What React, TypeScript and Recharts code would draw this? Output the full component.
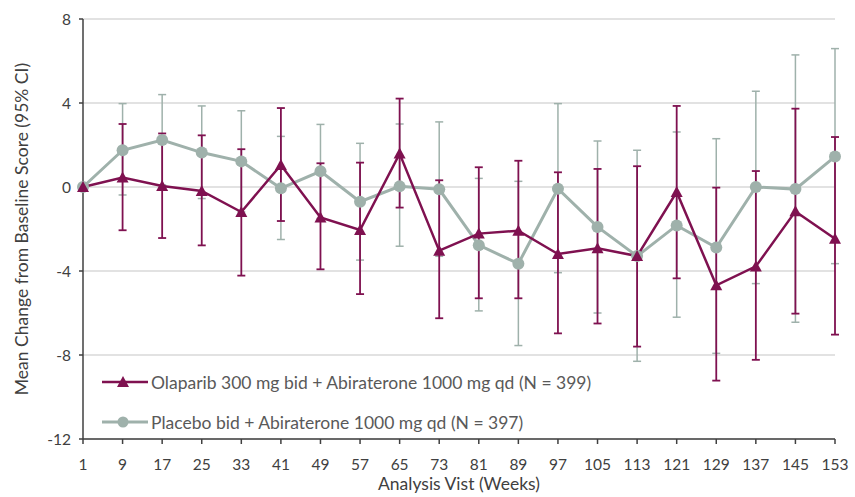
import React from "react";
import {
  LineChart,
  Line,
  XAxis,
  YAxis,
  CartesianGrid,
  ErrorBar,
} from "recharts";

const weeks = [1, 9, 17, 25, 33, 41, 49, 57, 65, 73, 81, 89, 97, 105, 113, 121, 129, 137, 145, 153];

const olaparibMean = [0, 0.45, 0.05, -0.19, -1.19, 1.05, -1.45, -2.05, 1.59, -3.03, -2.22, -2.08, -3.19, -2.92, -3.29, -0.24, -4.68, -3.78, -1.16, -2.46];
const olaparibLow = [0, -2.06, -2.43, -2.78, -4.22, -1.62, -3.92, -5.1, -0.98, -6.25, -5.3, -5.3, -6.97, -6.5, -7.6, -4.35, -9.22, -8.23, -6.03, -7.03];
const olaparibHigh = [0, 3.0, 2.55, 2.46, 1.8, 3.76, 1.13, 1.16, 4.21, 0.32, 0.94, 1.25, 0.7, 0.86, 0.99, 3.86, -0.03, 0.76, 3.73, 2.38];

const placeboMean = [0, 1.75, 2.24, 1.64, 1.22, -0.06, 0.75, -0.7, 0.03, -0.11, -2.77, -3.65, -0.08, -1.9, -3.29, -1.83, -2.88, 0.0, -0.1, 1.45];
const placeboLow = [0, -0.38, 0.1, -0.55, -1.19, -2.5, -1.5, -3.48, -2.82, -3.3, -5.9, -7.55, -4.08, -6.0, -8.3, -6.2, -7.92, -4.6, -6.44, -3.65];
const placeboHigh = [0, 3.97, 4.4, 3.86, 3.63, 2.41, 2.98, 2.08, 3.0, 3.1, 0.41, 0.27, 3.97, 2.19, 1.75, 2.62, 2.3, 4.56, 6.29, 6.59];

const yTicks = [8, 4, 0, -4, -8, -12];

const PURPLE = "#7f1150";
const GRAY = "#9fb1ab";
const FONT = "Lato, 'Open Sans', sans-serif";

const data = weeks.map((w, i) => ({
  week: w,
  olaparib: olaparibMean[i],
  olaparibErr: [olaparibMean[i] - olaparibLow[i], olaparibHigh[i] - olaparibMean[i]],
  placebo: placeboMean[i],
  placeboErr: [placeboMean[i] - placeboLow[i], placeboHigh[i] - placeboMean[i]],
}));

const Triangle = (props: any) => {
  const { cx, cy, index } = props;
  if (cx == null || cy == null) return null;
  return (
    <polygon
      key={"tri" + index}
      points={`${cx},${cy - 6} ${cx - 6},${cy + 5} ${cx + 6},${cy + 5}`}
      fill={PURPLE}
    />
  );
};

// legend sits inside the plot, bottom-left, like the original
const LegendBox = () => (
  <div
    style={{
      position: "absolute",
      left: 100,
      top: 362,
      fontFamily: FONT,
      fontSize: 17.5,
      color: "#595959",
    }}
  >
    <div style={{ display: "flex", alignItems: "center", height: 40 }}>
      <svg width={51} height={14}>
        <line x1={2} y1={7} x2={48} y2={7} stroke={PURPLE} strokeWidth={2.5} />
        <polygon points="23,1 17,12 29,12" fill={PURPLE} />
      </svg>
      <span>Olaparib 300 mg bid + Abiraterone 1000 mg qd (N = 399)</span>
    </div>
    <div style={{ display: "flex", alignItems: "center", height: 40 }}>
      <svg width={51} height={14}>
        <line x1={2} y1={7} x2={48} y2={7} stroke={GRAY} strokeWidth={3} />
        <circle cx={23} cy={7} r={5.5} fill={GRAY} />
      </svg>
      <span>Placebo bid + Abiraterone 1000 mg qd (N = 397)</span>
    </div>
  </div>
);

export default function App() {
  return (
    <div style={{ position: "absolute", left: 0, top: 0, background: "#fff" }}>
      <LineChart
        width={855}
        height={497}
        data={data}
        margin={{ top: 19, right: 20, bottom: 28, left: 23 }}
      >
        <CartesianGrid vertical={false} stroke="#d9d9d9" strokeWidth={1.5} />
        <XAxis
          dataKey="week"
          type="number"
          domain={[1, 153]}
          ticks={weeks}
          interval={0}
          height={30}
          tickSize={5}
          stroke="#404040"
          strokeWidth={1.5}
          tick={{ fill: "#404040", fontSize: 15.5, fontFamily: FONT }}
          tickMargin={15}
          label={{
            value: "Analysis Vist (Weeks)",
            position: "bottom",
            offset: 9,
            fill: "#404040",
            fontSize: 17.5,
            fontFamily: FONT,
          }}
        />
        <YAxis
          type="number"
          domain={[-12, 8]}
          ticks={yTicks}
          width={60}
          tickSize={4}
          stroke="#404040"
          strokeWidth={1.5}
          tick={{ fill: "#404040", fontSize: 15.5, fontFamily: FONT }}
          tickMargin={8}
          label={{
            value: "Mean Change from Baseline Score (95% CI)",
            angle: -90,
            position: "center",
            dx: -31,
            fill: "#404040",
            fontSize: 17.5,
            fontFamily: FONT,
          }}
        />
        <Line
          dataKey="placebo"
          stroke={GRAY}
          strokeWidth={3}
          dot={{ r: 6, fill: GRAY, stroke: "none" }}
          isAnimationActive={false}
        >
          <ErrorBar dataKey="placeboErr" width={4} strokeWidth={1.5} stroke={GRAY} direction="y" />
        </Line>
        <Line
          dataKey="olaparib"
          stroke={PURPLE}
          strokeWidth={2.5}
          dot={<Triangle />}
          isAnimationActive={false}
        >
          <ErrorBar dataKey="olaparibErr" width={4} strokeWidth={1.8} stroke={PURPLE} direction="y" />
        </Line>
      </LineChart>
      <LegendBox />
    </div>
  );
}
